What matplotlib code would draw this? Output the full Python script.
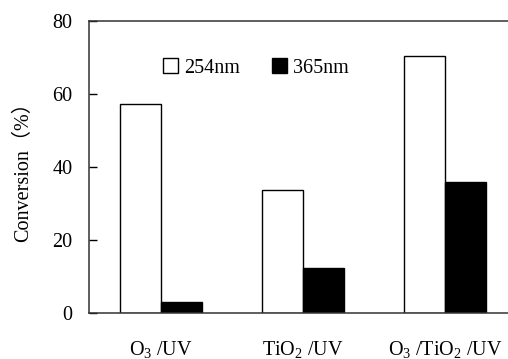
import numpy as np
import matplotlib
matplotlib.use("Agg")
import matplotlib.pyplot as plt

plt.rcParams['font.family'] = ['Liberation Serif', 'Noto Sans CJK SC', 'DejaVu Sans']
plt.rcParams['mathtext.fontset'] = 'custom'
plt.rcParams['mathtext.rm'] = 'Liberation Serif'
plt.rcParams['mathtext.it'] = 'Liberation Serif'

# data
groups = ['O$_3$ /UV', 'TiO$_2$ /UV', 'O$_3$ /TiO$_2$ /UV']
uv254 = [57.3, 33.8, 70.5]
uv365 = [3.0, 12.2, 36.0]

fs = 14.5

fig = plt.figure(figsize=(5.08, 3.59), dpi=100)
ax = fig.add_axes([89 / 508, 46 / 359, 428 / 508, 292 / 359])

x = np.arange(len(groups))
w = 0.29
ax.bar(x - w / 2, uv254, w, color='white', edgecolor='black', linewidth=1.0, label='254nm')
ax.bar(x + w / 2, uv365, w, color='black', edgecolor='black', linewidth=1.0, label='365nm')

ax.set_xlim(-0.507, 2.507)
ax.set_ylim(0, 80)
ax.set_yticks([0, 20, 40, 60, 80])
ax.set_xticks(x)
ax.set_xticklabels(groups, fontsize=fs)
ax.tick_params(axis='x', length=0, pad=19)
ax.tick_params(axis='y', direction='in', length=6, width=1, pad=12, labelsize=fs)
ax.set_ylabel('Conversion（%）', fontsize=fs, labelpad=14)

for s in ['top', 'left', 'bottom']:
    ax.spines[s].set_linewidth(1.1)
    ax.spines[s].set_color('#333333')
ax.spines['right'].set_visible(False)

ax.legend(loc='upper left', bbox_to_anchor=(0.13, 0.935), ncol=2, frameon=False,
          fontsize=fs, handlelength=0.75, handleheight=0.75, handletextpad=0.3,
          columnspacing=1.6)

fig.savefig('out.png', dpi=100)
